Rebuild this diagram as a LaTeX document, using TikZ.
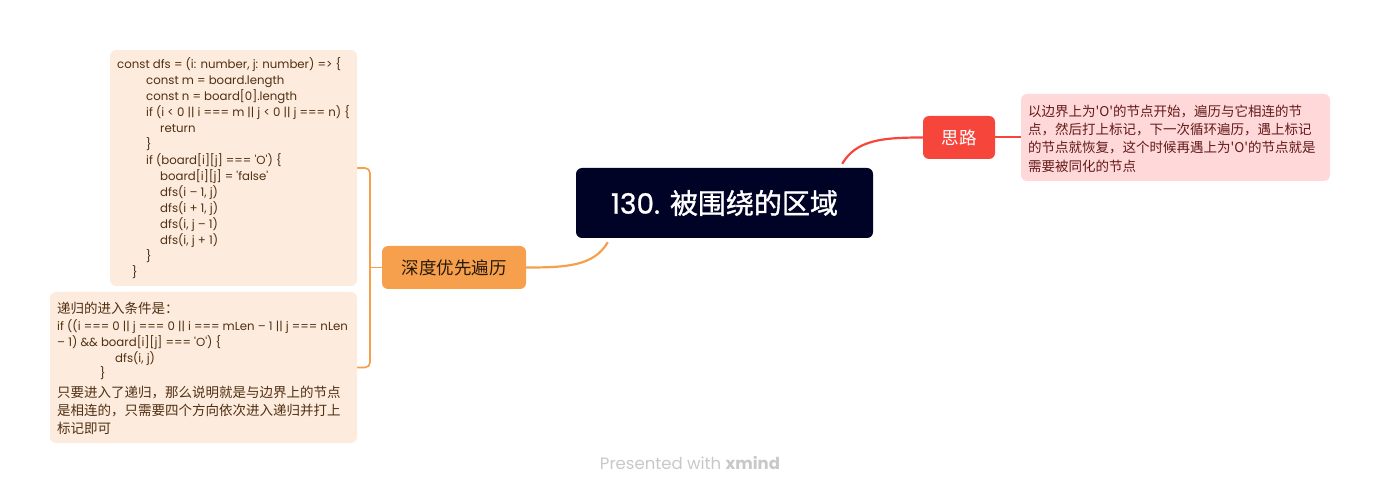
\documentclass[tikz,border=0pt]{standalone}
\usepackage{fontspec}
\setmainfont{Poppins}
\newfontfamily\popm{Poppins}[FakeBold=1]
\newfontfamily\cjk{Noto Sans CJK SC}
\newfontfamily\cjkm{Noto Sans CJK SC}[FakeBold=1.2]
\definecolor{navy}{RGB}{0,2,38}
\definecolor{orangeN}{RGB}{246,160,77}
\definecolor{redN}{RGB}{246,70,60}
\definecolor{peach}{RGB}{253,235,221}
\definecolor{pinkN}{RGB}{255,217,217}
\definecolor{brownT}{RGB}{80,48,18}
\definecolor{darkredT}{RGB}{100,25,25}
\definecolor{grayT}{RGB}{200,200,200}
\pgfdeclarelayer{bg}
\pgfsetlayers{bg,main}
\tikzset{
  box/.style={rounded corners=6pt, inner sep=0pt, draw=none},
  codetext/.style={anchor=base west, inner sep=0pt, font=\fontsize{11.75}{14}\selectfont, text=brownT},
  cjktext/.style={anchor=base west, inner sep=0pt, font=\cjk\fontsize{13.5}{15}\selectfont, text=brownT},
  pinktext/.style={anchor=base west, inner sep=0pt, font=\cjk\fontsize{13.5}{15}\selectfont, text=darkredT},
  branch/.style={line width=2.2pt},
}
\begin{document}
\begin{tikzpicture}[x=1pt,y=-1pt]
\useasboundingbox (0,0) rectangle (1381,494);
% boxes
\node[box, fill=peach, minimum width=247pt, minimum height=236pt] (code1) at (233.5,168) {};
\node[box, fill=peach, minimum width=307pt, minimum height=151pt] (code2) at (203.5,367.5) {};
\node[box, fill=orangeN, minimum width=144pt, minimum height=43pt, font=\cjk\fontsize{17.5}{19}\selectfont, text={rgb,255:red,40;green,25;blue,10}] (org) at (454,267.5) {深度优先遍历};
\node[box, fill=navy, minimum width=297pt, minimum height=70pt, font=\fontsize{28}{30}\selectfont, text=white] (central) at (724.5,203) {{\popm 130.} {\cjkm 被围绕的区域}};
\node[box, fill=redN, minimum width=72pt, minimum height=43pt, font=\cjk\fontsize{17.5}{19}\selectfont, text=white] (red) at (959,137.5) {思路};
\node[box, fill=pinkN, minimum width=309pt, minimum height=87pt] (pink) at (1175.5,137.5) {};
% connectors
\begin{pgfonlayer}{bg}
\draw[orangeN, branch] ([xshift=32pt,yshift=-4pt]central.south west) .. controls +(-14,24) and +(40,0) .. (org.east);
\draw[redN, branch] ([xshift=-31pt,yshift=4pt]central.north east) .. controls +(14,-24) and +(-40,0) .. (red.west);
\draw[redN, line width=2pt] (red.east) -- (pink.west);
\coordinate (bx) at (370,0);
\draw[orangeN, line width=1.7pt, rounded corners=5pt] (code1.east) -| (bx |- org.west) |- (code2.east);
\draw[orangeN, line width=1.7pt] (bx |- org.west) -- (org.west);
\end{pgfonlayer}
% code box 1
\node[codetext] (a1) at (117,68.5) {const dfs = (i: number, j: number) => \{};
\node[codetext] (a2) at (146,84.5) {const m = board.length};
\node[codetext] (a3) at (146,100.5) {const n = board[0].length};
\node[codetext] (a4) at (146,116.5) {if (i < 0 || i === m || j < 0 || j === n) \{};
\node[codetext] (a5) at (160,132.5) {return};
\node[codetext] (a6) at (146,148.5) {\}};
\node[codetext] (a7) at (146,164.5) {if (board[i][j] === \textquotesingle O\textquotesingle) \{};
\node[codetext] (a8) at (160,180.5) {board[i][j] = \textquotesingle false\textquotesingle};
\node[codetext] (a9) at (160,196.5) {dfs(i \textendash{} 1, j)};
\node[codetext] (a10) at (160,212.5) {dfs(i + 1, j)};
\node[codetext] (a11) at (160,228.5) {dfs(i, j \textendash{} 1)};
\node[codetext] (a12) at (160,244.5) {dfs(i, j + 1)};
\node[codetext] (a13) at (146,260.5) {\}};
\node[codetext] (a14) at (132,276.5) {\}};
% code box 2
\node[cjktext] (b1) at (57,313) {递归的进入条件是：};
\node[codetext] (b2) at (57,330.5) {if ((i === 0 || j === 0 || i === mLen \textendash{} 1 || j === nLen};
\node[codetext] (b3) at (57,346.5) {\textendash{} 1) \&\& board[i][j] === \textquotesingle O\textquotesingle) \{};
\node[codetext] (b4) at (115,362) {dfs(i, j)};
\node[codetext] (b5) at (100,377.5) {\}};
\node[cjktext] (b6) at (57,397) {只要进入了递归，那么说明就是与边界上的节点};
\node[cjktext] (b7) at (57,415) {是相连的，只需要四个方向依次进入递归并打上};
\node[cjktext] (b8) at (57,433) {标记即可};
% pink box
\node[pinktext] (p1) at (1028,116.5) {以边界上为\textquotesingle O\textquotesingle 的节点开始，遍历与它相连的节};
\node[pinktext] (p2) at (1028,135) {点，然后打上标记，下一次循环遍历，遇上标记};
\node[pinktext] (p3) at (1028,153) {的节点就恢复，这个时候再遇上为\textquotesingle O\textquotesingle 的节点就是};
\node[pinktext] (p4) at (1028,171.5) {需要被同化的节点};
% footer
\node[font=\fontsize{16.5}{18}\selectfont, text=grayT, inner sep=0pt] (foot) at (690,463) {Presented with \textbf{xmind}};
\end{tikzpicture}
\end{document}
